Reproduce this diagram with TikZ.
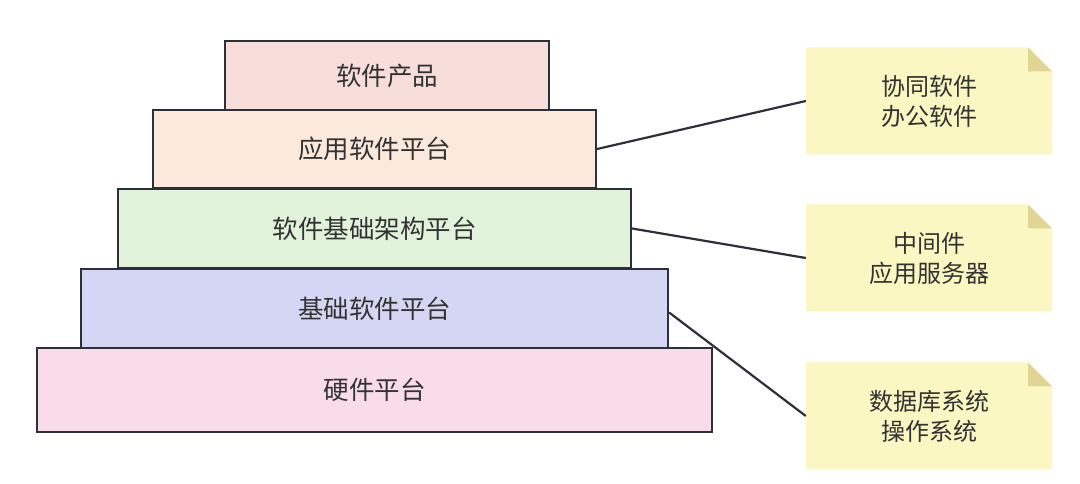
\documentclass[tikz,border=0pt]{standalone}
\usepackage{fontspec}
\setmainfont{Noto Sans CJK SC}
\begin{document}
\begin{tikzpicture}[x=1pt,y=1pt,
  layer/.style={draw=strokec, line width=2.2pt, minimum width=#1, inner sep=0pt, text=textc, font=\fontsize{25.5}{30}\selectfont},
  note/.style={minimum width=246pt, minimum height=107pt, inner sep=0pt, text=textc, align=center, font=\fontsize{24}{30}\selectfont},
  link/.style={draw=strokec, line width=2.2pt}]
\definecolor{strokec}{HTML}{2D3038}
\definecolor{textc}{HTML}{333333}
\definecolor{c1}{HTML}{F8DEDB}
\definecolor{c2}{HTML}{FBE9DC}
\definecolor{c3}{HTML}{E2F3DC}
\definecolor{c4}{HTML}{D5D6F4}
\definecolor{c5}{HTML}{F9DCEA}
\definecolor{notef}{HTML}{FAF7C2}
\definecolor{foldf}{HTML}{E0D592}
\useasboundingbox (0,0) rectangle (1080,484);
\node[layer=324pt, minimum height=69pt, fill=c1] (p1) at (387,408.5) {软件产品};
\node[layer=443pt, minimum height=78pt, fill=c2] (p2) at (374.5,335) {应用软件平台};
\node[layer=513pt, minimum height=79pt, fill=c3] (p3) at (374.5,255.5) {软件基础架构平台};
\node[layer=587pt, minimum height=79pt, fill=c4] (p4) at (374.5,175.5) {基础软件平台};
\node[layer=675pt, minimum height=84pt, fill=c5] (p5) at (374.5,94) {硬件平台};
\foreach \n/\y in {n1/383, n2/226, n3/68} {
  \coordinate (\n c) at (929,\y);
  \fill[notef] ([shift={(-123,-53.5)}]\n c) -- ([shift={(-123,53.5)}]\n c) -- ([shift={(99,53.5)}]\n c) -- ([shift={(123,29.5)}]\n c) -- ([shift={(123,-53.5)}]\n c) -- cycle;
  \fill[foldf] ([shift={(99,53.5)}]\n c) -- ([shift={(123,29.5)}]\n c) -- ([shift={(99,29.5)}]\n c) -- cycle;
}
\node[note] (n1) at (n1c) {协同软件\\办公软件};
\node[note] (n2) at (n2c) {中间件\\应用服务器};
\node[note] (n3) at (n3c) {数据库系统\\操作系统};
\draw[link] (p2.east) -- (n1.west);
\draw[link] (p3.east) -- (n2.west);
\draw[link] ([yshift=-4pt]p4.east) -- (n3.west);
\end{tikzpicture}
\end{document}
